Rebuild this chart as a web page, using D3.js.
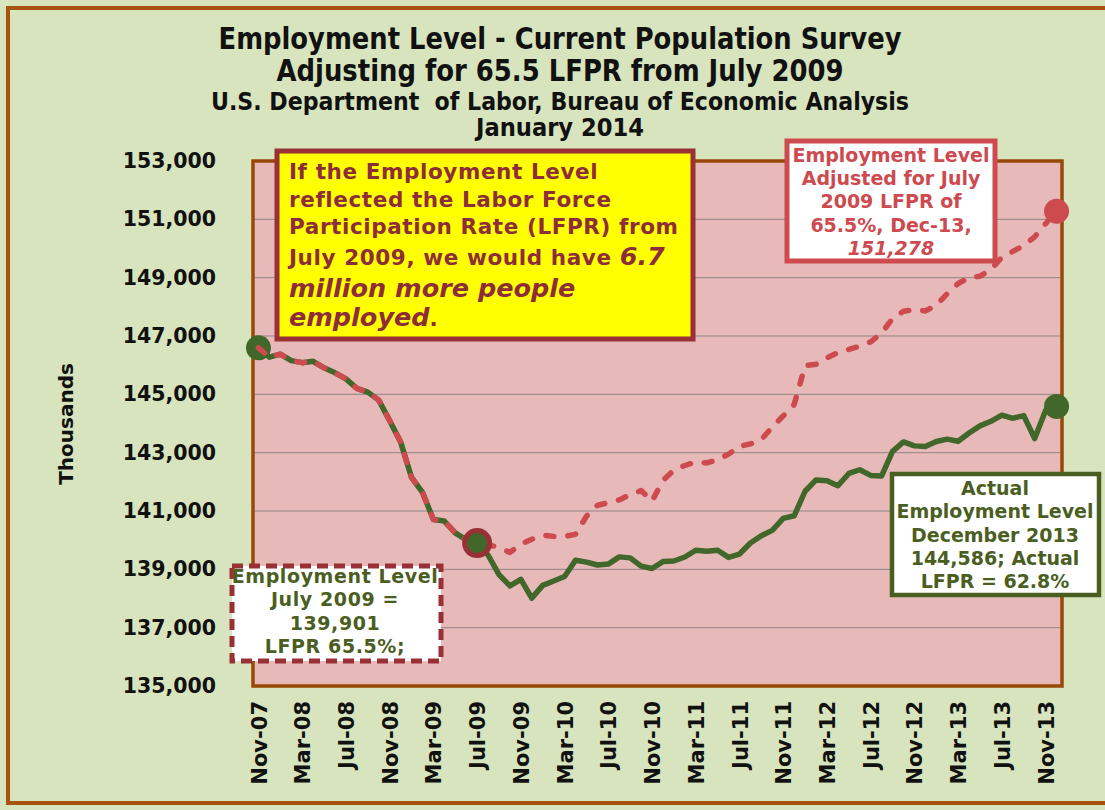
<!DOCTYPE html>
<html>
<head>
<meta charset="utf-8">
<script src="https://cdn.jsdelivr.net/npm/d3@7"></script>
<style>
  html, body { margin: 0; padding: 0; background: #d7e4bd; }
  svg { display: block; }
</style>
</head>
<body>
<svg id="chart" width="1105" height="810"></svg>
<script>
// Monthly categories, Nov 2007 – Dec 2013
const months = [
  "Nov-07","Dec-07",
  "Jan-08","Feb-08","Mar-08","Apr-08","May-08","Jun-08","Jul-08","Aug-08","Sep-08","Oct-08","Nov-08","Dec-08",
  "Jan-09","Feb-09","Mar-09","Apr-09","May-09","Jun-09","Jul-09","Aug-09","Sep-09","Oct-09","Nov-09","Dec-09",
  "Jan-10","Feb-10","Mar-10","Apr-10","May-10","Jun-10","Jul-10","Aug-10","Sep-10","Oct-10","Nov-10","Dec-10",
  "Jan-11","Feb-11","Mar-11","Apr-11","May-11","Jun-11","Jul-11","Aug-11","Sep-11","Oct-11","Nov-11","Dec-11",
  "Jan-12","Feb-12","Mar-12","Apr-12","May-12","Jun-12","Jul-12","Aug-12","Sep-12","Oct-12","Nov-12","Dec-12",
  "Jan-13","Feb-13","Mar-13","Apr-13","May-13","Jun-13","Jul-13","Aug-13","Sep-13","Oct-13","Nov-13","Dec-13"
];

// Actual employment level (thousands)
const actual = [
  146595,146273,
  146378,146156,146086,146132,145908,145737,145532,145203,145076,144802,144100,143369,
  142152,141640,140707,140656,140248,140009,139901,139492,138818,138432,138659,138013,
  138451,138599,138752,139309,139247,139148,139179,139427,139393,139111,139030,139266,
  139287,139422,139655,139622,139653,139409,139524,139904,140154,140335,140747,140836,
  141677,142065,142034,141865,142287,142415,142220,142204,143044,143369,143233,143212,
  143384,143464,143393,143676,143919,144075,144285,144179,144270,143485,144443,144586
];

// Employment level held at the July 2009 participation rate (thousands)
const adjusted = [
  146595,146273,
  146378,146156,146086,146132,145908,145737,145532,145203,145076,144802,144100,143369,
  142152,141640,140707,140656,140248,140009,139901,139840,139750,139580,139860,140030,
  140170,140130,140130,140200,140820,141190,141290,141380,141560,141700,141340,142050,
  142400,142560,142680,142650,142760,142950,143220,143300,143450,143880,144260,144650,
  145980,146030,146250,146430,146540,146650,146800,147100,147600,147850,147900,147860,
  148050,148450,148800,149000,149050,149280,149700,149900,150100,150400,150850,151278
];

const yTicks = [135000,137000,139000,141000,143000,145000,147000,149000,151000,153000];
const xLabelEvery = 4;

const titleLines = [
  "Employment Level - Current Population Survey",
  "Adjusting for 65.5 LFPR from July 2009",
  "U.S. Department\u00a0\u00a0of Labor, Bureau of Economic Analysis",
  "January 2014"
];

const C = {
  bg: "#d7e4bd",
  frame: "#a65310",
  plotFill: "#e8b9b9",
  plotBorder: "#984807",
  grid: "#8f8585",
  green: "#41682a",
  red: "#cd4a4f",
  darkRed: "#983035",
  olive: "#4b5e22",
  maroon: "#8e2d3a"
};

const FONT = "'DejaVu Sans', Verdana, sans-serif";
const TITLE_FONT = "'Liberation Sans Narrow', 'DejaVu Sans Condensed', 'Liberation Sans', sans-serif";

const svg = d3.select("#chart");
const plot = { left: 253, right: 1062, top: 161, bottom: 686 };

const x = d3.scalePoint().domain(months).range([plot.left, plot.right]).padding(0.5);
const y = d3.scaleLinear().domain([135000, 153000]).range([plot.bottom, plot.top]);

// Background and outer frame
svg.append("rect").attr("width", 1105).attr("height", 810).attr("fill", C.bg);
svg.append("rect").attr("x", 8).attr("y", 8).attr("width", 1120).attr("height", 795)
  .attr("fill", "none").attr("stroke", C.frame).attr("stroke-width", 4);

// Titles
const titleSpec = [
  { y: 49, size: 30, len: 683 },
  { y: 81, size: 30, len: 567 },
  { y: 110, size: 24, len: 698 },
  { y: 136, size: 24, len: 168 }
];
titleLines.forEach((t, i) => {
  svg.append("text")
    .attr("x", 560).attr("y", titleSpec[i].y)
    .attr("text-anchor", "middle")
    .attr("font-family", TITLE_FONT).attr("font-weight", "bold")
    .attr("font-size", titleSpec[i].size)
    .attr("textLength", titleSpec[i].len).attr("lengthAdjust", "spacingAndGlyphs")
    .attr("fill", "#111")
    .text(t);
});

// Plot area
svg.append("rect")
  .attr("x", plot.left).attr("y", plot.top)
  .attr("width", plot.right - plot.left).attr("height", plot.bottom - plot.top)
  .attr("fill", C.plotFill);

// Horizontal gridlines
svg.append("g").selectAll("line")
  .data(yTicks.slice(1, -1))
  .join("line")
  .attr("x1", plot.left).attr("x2", plot.right)
  .attr("y1", d => y(d)).attr("y2", d => y(d))
  .attr("stroke", C.grid).attr("stroke-width", 1);

// Y axis labels
const yAxis = d3.axisLeft(y).tickValues(yTicks).tickSize(0).tickPadding(0)
  .tickFormat(d3.format(","));
svg.append("g")
  .attr("transform", "translate(216,0)")
  .call(yAxis)
  .call(g => g.select(".domain").remove())
  .call(g => g.selectAll("text")
    .attr("font-family", FONT).attr("font-weight", "bold")
    .attr("font-size", 20.5).attr("fill", "#111"));

svg.append("text")
  .attr("transform", "translate(73,424) rotate(-90)")
  .attr("text-anchor", "middle")
  .attr("font-family", FONT).attr("font-weight", "bold").attr("font-size", 20)
  .attr("fill", "#111")
  .text("Thousands");

// X axis labels, every fourth month
const xAxis = d3.axisBottom(x).tickSize(0).tickPadding(0)
  .tickValues(months.filter((m, i) => i % xLabelEvery === 0));
svg.append("g")
  .attr("transform", `translate(0,${plot.bottom})`)
  .call(xAxis)
  .call(g => g.select(".domain").remove())
  .call(g => g.selectAll("text")
    .attr("transform", "rotate(-90)")
    .attr("text-anchor", "end")
    .attr("x", -15).attr("y", 0).attr("dy", "0.36em")
    .attr("font-family", FONT).attr("font-weight", "bold")
    .attr("font-size", 21).attr("fill", "#111"));

// Plot border
svg.append("rect")
  .attr("x", plot.left).attr("y", plot.top)
  .attr("width", plot.right - plot.left).attr("height", plot.bottom - plot.top)
  .attr("fill", "none").attr("stroke", C.plotBorder).attr("stroke-width", 3.5);

// Series
const line = d3.line().x((d, i) => x(months[i])).y(d => y(d));
const last = months.length - 1;
const julIdx = months.indexOf("Jul-09");

svg.append("path").datum(actual)
  .attr("d", line).attr("fill", "none")
  .attr("stroke", C.green).attr("stroke-width", 5.5)
  .attr("stroke-linejoin", "round").attr("stroke-linecap", "round");

svg.append("circle").attr("cx", x(months[0])).attr("cy", y(actual[0]))
  .attr("r", 12.5).attr("fill", C.green);
svg.append("circle").attr("cx", x(months[last])).attr("cy", y(actual[last]))
  .attr("r", 12.5).attr("fill", C.green);

svg.append("path").datum(adjusted)
  .attr("d", line).attr("fill", "none")
  .attr("stroke", C.red).attr("stroke-width", 5.5)
  .attr("stroke-dasharray", "8,14")
  .attr("stroke-linejoin", "round").attr("stroke-linecap", "round");

svg.append("circle").attr("cx", x(months[julIdx])).attr("cy", y(actual[julIdx]))
  .attr("r", 12.5).attr("fill", C.green).attr("stroke", C.darkRed).attr("stroke-width", 5);
svg.append("circle").attr("cx", x(months[last])).attr("cy", y(adjusted[last]))
  .attr("r", 12.5).attr("fill", C.red);

// Callout boxes
function box(x0, y0, w, h, fill, stroke, sw, dash) {
  const r = svg.append("rect").attr("x", x0).attr("y", y0).attr("width", w).attr("height", h)
    .attr("fill", fill).attr("stroke", stroke).attr("stroke-width", sw);
  if (dash) r.attr("stroke-dasharray", dash);
}
function lines(cx, baselines, texts, color, size, anchor, spacing) {
  texts.forEach((parts, i) => {
    const t = svg.append("text")
      .attr("x", cx).attr("y", baselines[i])
      .attr("text-anchor", anchor || "middle")
      .attr("font-family", FONT).attr("font-weight", "bold")
      .attr("font-size", size).attr("fill", color)
      .attr("letter-spacing", spacing || 0);
    (Array.isArray(parts) ? parts : [parts]).forEach(p => {
      const s = typeof p === "string" ? { t: p } : p;
      const ts = t.append("tspan").text(s.t);
      if (s.italic) ts.attr("font-style", "italic");
      if (s.size) ts.attr("font-size", s.size);
      if (s.spacing !== undefined) ts.attr("letter-spacing", s.spacing);
    });
  });
}

// Headline note
box(277, 151, 416, 188, "#ffff00", C.darkRed, 5);
lines(289, [179, 207, 234, 265, 297, 326], [
  "If the Employment Level",
  "reflected the Labor Force",
  "Participation Rate (LFPR) from",
  ["July 2009, we would have ", { t: "6.7", italic: true, size: 25.5, spacing: 0 }],
  [{ t: "million more people", italic: true, size: 25.5, spacing: 0 }],
  [{ t: "employed", italic: true, size: 25.5, spacing: 0 }, "."]
], C.maroon, 21.5, "start", 0.6);

// Adjusted end value
box(787, 141, 208, 120, "#ffffff", C.red, 5);
lines(891, [162, 185, 208, 232, 255], [
  "Employment Level",
  "Adjusted for July",
  "2009 LFPR of",
  "65.5%, Dec-13,",
  [{ t: "151,278", italic: true }]
], C.red, 19);

// July 2009 reference value
box(232, 566, 209, 95, "#ffffff", C.darkRed, 5, "11,6");
lines(335, [583, 606, 630, 653], [
  "Employment Level",
  "July 2009 =",
  "139,901",
  "LFPR 65.5%;"
], C.olive, 19, "middle", 0.6);

// Actual end value
box(892, 474, 207, 121, "#ffffff", C.olive, 4.5);
lines(995, [495, 518, 542, 565, 588], [
  "Actual",
  "Employment Level",
  "December 2013",
  "144,586; Actual",
  "LFPR = 62.8%"
], C.olive, 19);
</script>
</body>
</html>
